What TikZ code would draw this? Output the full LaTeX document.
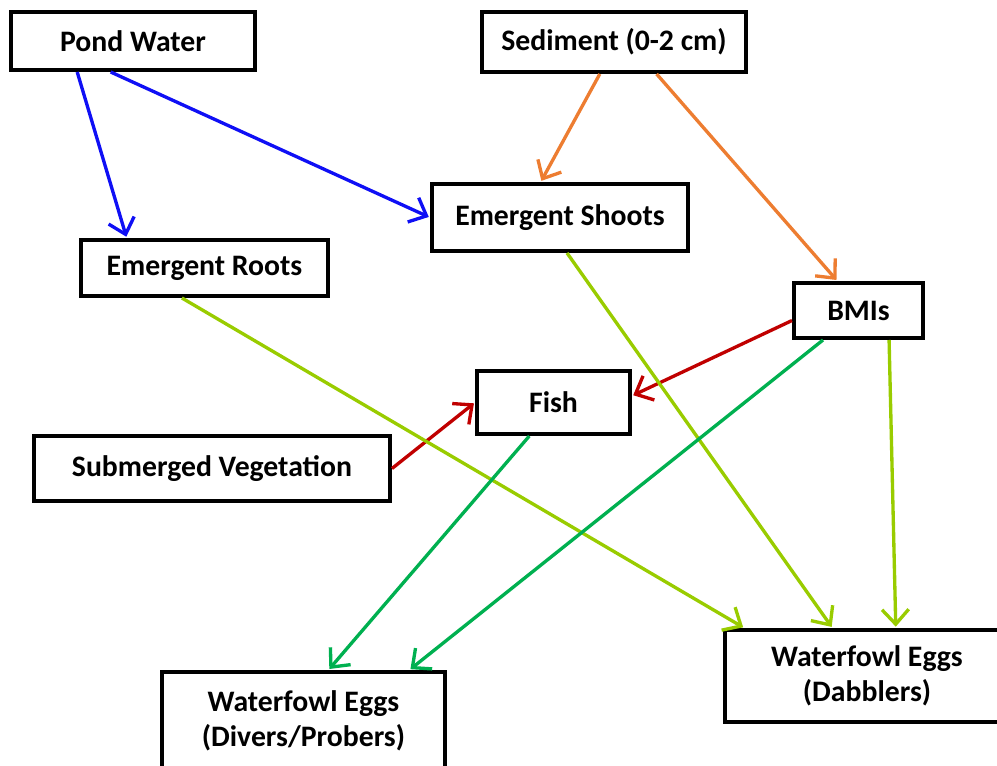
\documentclass[tikz,border=0pt]{standalone}
\usepackage{fontspec}
\setmainfont{Carlito}
\usepackage{tikz}
\usetikzlibrary{calc,arrows.meta}
\definecolor{waterblue}{RGB}{15,15,245}
\definecolor{sedorange}{RGB}{237,125,49}
\definecolor{fishred}{RGB}{192,0,0}
\definecolor{dabgreen}{RGB}{153,204,0}
\definecolor{divgreen}{RGB}{0,176,80}

\begin{document}
\begin{tikzpicture}[x=0.75pt, y=-0.75pt,
  box/.style={draw, line width=3pt, inner sep=0pt, align=center,
    font=\fontsize{22.3}{26}\selectfont\bfseries},
  flow/.style={line width=2.5pt, shorten >=1pt,
    -{Straight Barb[length=11pt,width=20pt]}}]
\useasboundingbox (0,0) rectangle (997,766);
\clip (0,0) rectangle (997,766);
%\draw (0,0) grid[step=50] (997,766);
\node[box, minimum width=244*0.75pt, minimum height=58*0.75pt] (pond) at (133,41) {Pond Water};
\node[box, minimum width=264*0.75pt, minimum height=60*0.75pt] (sediment) at (614,42) {Sediment (0-2 cm)};
\node[box, minimum width=256*0.75pt, minimum height=67*0.75pt] (shoots) at (560,217.5) {Emergent Shoots};
\node[box, minimum width=247*0.75pt, minimum height=56*0.75pt] (roots) at (204.5,268) {Emergent Roots};
\node[box, minimum width=129*0.75pt, minimum height=55*0.75pt] (bmis) at (858.5,310.5) {BMIs};
\node[box, minimum width=153*0.75pt, minimum height=63*0.75pt] (fish) at (553.5,402.5) {Fish};
\node[box, minimum width=356*0.75pt, minimum height=65*0.75pt] (subveg) at (212,468.5) {Submerged Vegetation};
\node[box, minimum width=283*0.75pt, minimum height=98*0.75pt] (divers) at (303.5,721) {Waterfowl Eggs\\(Divers/Probers)};
\node[box, minimum width=284*0.75pt, minimum height=92*0.75pt] (dabblers) at (867,676) {Waterfowl Eggs\\(Dabblers)};

\draw[flow, waterblue] ($(pond.south west)!0.275!(pond.south east)$) -- ($(roots.north west)!0.19!(roots.north east)$);
\draw[flow, waterblue] ($(pond.south west)!0.41!(pond.south east)$) -- (shoots.west);
\draw[flow, sedorange] ($(sediment.south west)!0.447!(sediment.south east)$) -- ($(shoots.north west)!0.426!(shoots.north east)$);
\draw[flow, sedorange] ($(sediment.south west)!0.659!(sediment.south east)$) -- ($(bmis.north west)!0.341!(bmis.north east)$);
\draw[flow, fishred] ($(bmis.north west)!0.67!(bmis.south west)$) -- ($(fish.north east)!0.4!(fish.south east)$);
\draw[flow, fishred] (subveg.east) -- (fish.west);
\draw[flow, dabgreen] ($(roots.south west)!0.41!(roots.south east)$) -- ($(dabblers.north west)!0.074!(dabblers.north east)$);
\draw[flow, dabgreen] ($(shoots.south west)!0.527!(shoots.south east)$) -- ($(dabblers.north west)!0.38!(dabblers.north east)$);
\draw[flow, dabgreen] ($(bmis.south west)!0.73!(bmis.south east)$) -- ($(dabblers.north west)!0.6!(dabblers.north east)$);
\draw[flow, divgreen] ($(fish.south west)!0.346!(fish.south east)$) -- ($(divers.north west)!0.587!(divers.north east)$);
\draw[flow, divgreen] ($(bmis.south west)!0.233!(bmis.south east)$) -- ($(divers.north west)!0.869!(divers.north east)$);
\end{tikzpicture}
\end{document}
